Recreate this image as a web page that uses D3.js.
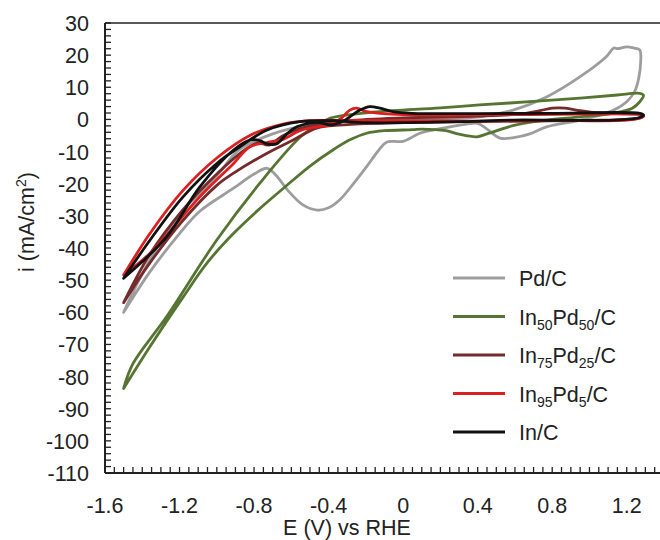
<!DOCTYPE html>
<html><head><meta charset="utf-8">
<script src="https://cdn.jsdelivr.net/npm/d3@7"></script>
<style>body{margin:0;background:#fff}svg{display:block}text{font-family:"Liberation Sans",Arial,sans-serif;fill:#222}</style>
</head><body><svg id="c" width="660" height="540"></svg>
<script>
// ---- data (E in V vs RHE, i in mA/cm2), each loop ----
const seriesNames = ["Pd/C","In50Pd50/C","In75Pd25/C","In95Pd5/C","In/C"];
const xTicks = [-1.6,-1.2,-0.8,-0.4,0,0.4,0.8,1.2];
const yTicks = [30,20,10,0,-10,-20,-30,-40,-50,-60,-70,-80,-90,-100,-110];

const pdE = [-1.5,-1.36,-1.2,-1.09,-0.91,-0.8,-0.73,-0.68,-0.62,-0.54,-0.46,-0.4,-0.34,-0.26,-0.196,-0.13,-0.087,0.0,0.09,0.16,0.28,0.36,0.40,0.45,0.52,0.6,0.68,0.77,0.95,1.13,1.2,1.245,1.265,1.275,1.27,1.24,1.2,1.15,1.13,1.09,0.95,0.77,0.59,0.41,0.2,0.0,-0.3,-0.5,-0.7,-0.88,-1.0,-1.2,-1.3,-1.4,-1.5];
const pdI = [-60,-47.5,-35.5,-28.5,-21.4,-17,-15.2,-17.5,-22,-26.5,-28.2,-27.5,-25,-19.5,-14.7,-9.5,-7,-6.8,-4.3,-3.3,-2,-1.3,-1.2,-3,-5.8,-5.6,-4.5,-2.3,-0.2,2.9,5.5,9,13,18,21.6,22.2,22.6,22,22.2,19.5,13.3,7,2.9,0.8,0.2,-0.2,-0.6,-1.6,-4.5,-9.5,-17.5,-29.5,-38,-48,-60];

const in50E = [-1.5,-1.45,-1.27,-1.0,-0.77,-0.55,-0.45,-0.39,-0.25,-0.125,0.2,0.41,0.7,0.95,1.15,1.27,1.29,1.27,1.23,1.13,0.95,0.77,0.6,0.45,0.396,0.3,0.23,0.1,0.05,-0.1,-0.196,-0.28,-0.377,-0.5,-0.644,-0.78,-0.911,-1.05,-1.18,-1.36,-1.5];
const in50I = [-83.7,-76,-61.4,-37.5,-19.9,-5.4,-1.5,0.4,1.7,2.4,3.6,4.5,5.6,6.6,7.6,8.1,7.5,5.5,3.5,2.0,0.8,-0.2,-1.8,-4.5,-5.4,-4.6,-3.5,-3.0,-3.2,-3.5,-4.3,-6.2,-9.5,-14.5,-21.5,-28.3,-35.5,-44.5,-55.2,-70.8,-83.7];

const in75E = [-1.5,-1.36,-1.18,-1.0,-0.85,-0.78,-0.72,-0.65,-0.5,-0.3,0.0,0.4,0.65,0.74,0.8,0.87,0.95,1.05,1.2,1.28,1.29,1.27,1.2,1.0,0.5,0.0,-0.3,-0.46,-0.59,-0.73,-0.91,-1.0,-1.18,-1.36,-1.5];
const in75I = [-57,-42,-28,-17,-9.5,-7.3,-8,-5.2,-2,-0.4,0.5,1.0,1.8,2.8,3.5,3.5,2.7,2.0,1.7,1.5,1.0,0.5,0.0,-0.3,-0.6,-1.0,-1.6,-2.6,-6.4,-10.5,-16.7,-20.5,-31.3,-44.7,-57];

const in95E = [-1.5,-1.358,-1.09,-0.91,-0.822,-0.73,-0.645,-0.554,-0.46,-0.393,-0.33,-0.286,-0.25,-0.196,-0.125,0.0,0.4,0.8,1.2,1.28,1.29,1.27,1.2,0.8,0.4,0.0,-0.3,-0.5,-0.65,-0.82,-1.0,-1.18,-1.358,-1.5];
const in95I = [-48.4,-41.6,-24,-13.7,-8.5,-7.2,-6.2,-3.5,-2.3,-1.7,0.5,2.9,3.5,2.4,1.9,1.5,1.4,1.6,1.7,1.6,1.0,0.4,-0.2,-0.4,-0.5,-0.4,-0.3,-0.4,-1.5,-4.9,-12,-22,-35.4,-48.4];

const inE = [-1.5,-1.269,-1.09,-0.91,-0.822,-0.77,-0.73,-0.68,-0.62,-0.57,-0.46,-0.39,-0.32,-0.286,-0.232,-0.178,-0.125,-0.055,0.05,0.4,0.8,1.27,1.29,1.27,1.13,0.59,0.32,-0.2,-0.377,-0.554,-0.73,-0.876,-1.0,-1.18,-1.358,-1.5];
const inI = [-49.4,-36.5,-20.9,-9.5,-6.4,-6.6,-7.6,-7.6,-4.3,-2.3,-0.9,-1.7,-0.5,0.8,2.9,4.0,3.5,2.4,1.9,1.8,1.9,1.9,1.4,0.6,-0.2,-0.2,-0.7,-1.0,-0.4,-0.7,-3.3,-8.5,-13.7,-24,-37.5,-49.4];

const allE = [pdE,in50E,in75E,in95E,inE];
const allI = [pdI,in50I,in75I,in95I,inI];
const colors = ["#9d9d9d","#577532","#752b2c","#dc1f1f","#111111"];

// ---- chart ----
const svg = d3.select("#c");
const x = d3.scaleLinear().domain([-1.6,1.4]).range([105,664]);
const y = d3.scaleLinear().domain([-110,30]).range([473,23]);
const FS = 21.5;

// curves
const line = d3.line().x(d=>x(d[0])).y(d=>y(d[1])).curve(d3.curveCatmullRom.alpha(0.5));
const g = svg.append("g");
allE.forEach((E,k)=>{
  const pts = E.map((e,j)=>[e,allI[k][j]]);
  g.append("path").attr("d",line(pts)).attr("fill","none")
   .attr("stroke",colors[k]).attr("stroke-width",2.8).attr("stroke-linejoin","round").attr("stroke-linecap","round");
});

// axes
const ax = svg.append("g").attr("stroke","#222");
ax.append("line").attr("x1",x(-1.6)).attr("x2",x(1.4)).attr("y1",y(-110)).attr("y2",y(-110)).attr("stroke-width",2);
ax.append("line").attr("x1",x(-1.6)).attr("x2",x(-1.6)).attr("y1",y(-110)).attr("y2",y(30)).attr("stroke-width",2);
ax.append("line").attr("x1",x(-1.6)).attr("x2",x(1.4)).attr("y1",y(30)).attr("y2",y(30)).attr("stroke-width",1.5);

const xMinor = d3.range(-1.6,1.401,0.05);
ax.selectAll(".xt").data(xMinor).enter().append("line")
  .attr("x1",d=>x(d)).attr("x2",d=>x(d)).attr("y1",y(-110)).attr("y2",y(-110)-6).attr("stroke-width",1.3);
const yMinor = d3.range(-110,30.01,2);
ax.selectAll(".yt").data(yMinor).enter().append("line")
  .attr("x1",x(-1.6)).attr("x2",x(-1.6)+6).attr("y1",d=>y(d)).attr("y2",d=>y(d)).attr("stroke-width",1.3);

svg.selectAll(".xl").data(xTicks).enter().append("text")
  .attr("x",d=>x(d)).attr("y",513).attr("text-anchor","middle").attr("font-size",FS).text(d=>String(d));
svg.selectAll(".yl").data(yTicks).enter().append("text")
  .attr("x",89).attr("y",d=>y(d)+8).attr("text-anchor","end").attr("font-size",FS).text(d=>String(d));

svg.append("text").attr("x",347).attr("y",535).attr("text-anchor","middle").attr("font-size",FS).text("E (V) vs RHE");
const yl = svg.append("text").attr("transform","translate(34,222) rotate(-90)").attr("text-anchor","middle").attr("font-size",FS);
yl.append("tspan").text("i (mA/cm");
yl.append("tspan").attr("font-size",14).attr("dy",-8).text("2");
yl.append("tspan").attr("dy",8).text(")");

// legend
const legendParts = [["Pd/C"],["In","50","Pd","50","/C"],["In","75","Pd","25","/C"],["In","95","Pd","5","/C"],["In/C"]];
const lg = svg.append("g");
legendParts.forEach((parts,k)=>{
  const yy = 278 + k*38.5;
  lg.append("line").attr("x1",453).attr("x2",505).attr("y1",yy).attr("y2",yy).attr("stroke",colors[k]).attr("stroke-width",2.8);
  const t = lg.append("text").attr("x",519).attr("y",yy+8).attr("font-size",FS).attr("fill","#222");
  parts.forEach((p,j)=>{
    const sub = j%2===1;
    const ts = t.append("tspan").text(p);
    if(sub){ ts.attr("font-size",14).attr("dy",5); }
    else if(j>0){ ts.attr("dy",-5); }
  });
});
</script></body></html>
